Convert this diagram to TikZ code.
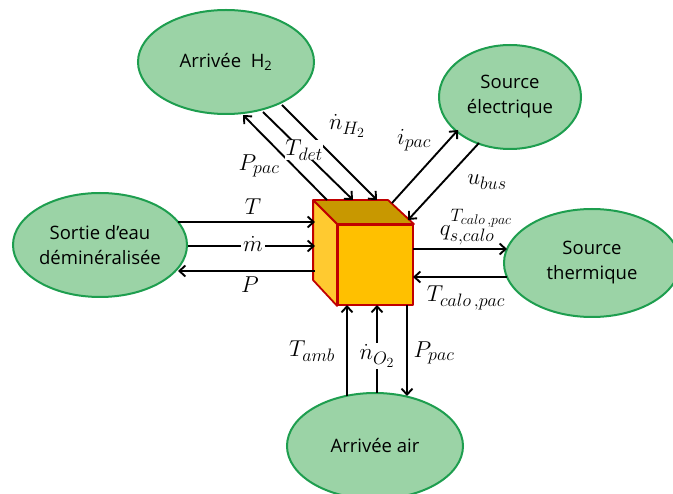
\RequirePackage{fix-cm}
\documentclass[tikz,border=0pt]{standalone}
\usepackage{fontspec}
\setmainfont{Open Sans}
\DeclareMathSizes{23}{23}{18}{14}
\usepackage{xcolor}
\definecolor{cFill}{HTML}{9BD3A6}
\definecolor{cEdge}{HTML}{1E9E4F}
\definecolor{cFront}{HTML}{FFC000}
\definecolor{cTop}{HTML}{C89800}
\definecolor{cSide}{HTML}{FFCA30}
\definecolor{cRed}{HTML}{C00000}
\usepackage{tikz}
\usetikzlibrary{arrows.meta,shapes.geometric,calc}
\tikzset{
  node-src/.style={ellipse,draw=cEdge,line width=2pt,fill=cFill,inner sep=0pt,
    align=center,font=\fontsize{18.5}{25}\selectfont},
  node-face/.style={draw=cRed,line width=1.8pt,line join=round},
  arrow/.style={-{Straight Barb[length=6pt,width=11pt,line width=1.9pt]},line width=1.9pt},
  lbl/.style={font=\fontsize{23}{27}\selectfont,inner sep=0pt},
  lbl-cut/.style={lbl,fill=white,inner sep=2pt},
}

\begin{document}
\begin{tikzpicture}[x=1pt,y=-1pt]
  \useasboundingbox (0,0) rectangle (673,494);
  % sources
  \node[node-src,minimum width=176,minimum height=104] (h2) at (226,62) {Arrivée\ \ H\textsubscript{2}};
  \node[node-src,minimum width=142,minimum height=104] (elec) at (510,97) {Source\\électrique};
  \node[node-src,minimum width=174,minimum height=104] (eau) at (100,245) {Sortie\ d’eau\\déminéralisée};
  \node[node-src,minimum width=176,minimum height=108] (therm) at (592,263) {Source\\thermique};
  \node[node-src,minimum width=176,minimum height=106] (air) at (375,446) {Arrivée air};
  % cube (pile)
  \node[node-face,fill=cFront,minimum width=75,minimum height=80,inner sep=0pt] (pac) at (375.5,265) {};
  \draw[node-face,fill=cTop] (pac.north west) -- ++(-24,-24) -- ++(75,0) -- (pac.north east) -- cycle;
  \draw[node-face,fill=cSide] (pac.north west) -- ++(-24,-24) -- ++(0,80) -- (pac.south west) -- cycle;
  % connector ends
  \coordinate (h2a) at (243,115); \coordinate (pa) at (327,200);
  \coordinate (h2b) at (263,112); \coordinate (pb) at (353,200);
  \coordinate (h2c) at (282,105); \coordinate (pc) at (377,200);
  \coordinate (pd) at (392,203); \coordinate (ela) at (458,130);
  \coordinate (elb) at (479,143); \coordinate (pe) at (408,220);
  \coordinate (eaa) at (178,222); \coordinate (pf) at (315,222);
  \coordinate (eab) at (188,246); \coordinate (pg) at (315,246);
  \coordinate (eac) at (178,271); \coordinate (ph) at (315,271);
  \coordinate (pi) at (413,249); \coordinate (tha) at (507,249);
  \coordinate (thb) at (507,277); \coordinate (pj) at (413,277);
  \coordinate (aia) at (347,396); \coordinate (pk) at (347,305);
  \coordinate (aib) at (377,393); \coordinate (pl) at (377,305);
  \coordinate (pm) at (407,305); \coordinate (aic) at (407,396);
  % connectors
  \draw[arrow] (pa) -- (h2a);
  \draw[arrow] (h2b) -- (pb);
  \draw[arrow] (h2c) -- (pc);
  \draw[arrow] (pd) -- (ela);
  \draw[arrow] (elb) -- (pe);
  \draw[arrow] (eaa) -- (pf);
  \draw[arrow] (eab) -- (pg);
  \draw[arrow] (ph) -- (eac);
  \draw[arrow] (pi) -- (tha);
  \draw[arrow] (thb) -- (pj);
  \draw[arrow] (aia) -- (pk);
  \draw[arrow] (aib) -- (pl);
  \draw[arrow] (pm) -- (aic);
  % labels
  \node[lbl] (lppac) at (259,166) {$P_{pac}$};
  \node[lbl-cut,inner sep=0pt] (ltdet) at (304,150) {$T_{det}$};
  \node[lbl] (lnh2) at (347,126) {$\dot{n}_{H_2}$};
  \node[lbl] (lipac) at (414,140) {$i_{pac}$};
  \node[lbl] (lubus) at (487,182) {$u_{bus}$};
  \node[lbl] (lt) at (253,207) {$T$};
  \node[lbl-cut] (lm) at (253,244) {$\dot{m}$};
  \node[lbl] (lp) at (250,285) {$P$};
  \node[lbl] (lq) at (476,227) {$q_{s,calo}^{T_{calo\,,pac}}$};
  \node[lbl] (ltcalo) at (466,298) {$T_{calo\,,pac}$};
  \node[lbl] (ltamb) at (312,351) {$T_{amb}$};
  \node[lbl-cut] (lno2) at (377,356) {$\dot{n}_{O_2}$};
  \node[lbl] (lppac2) at (434,353) {$P_{pac}$};
\end{tikzpicture}
\end{document}
